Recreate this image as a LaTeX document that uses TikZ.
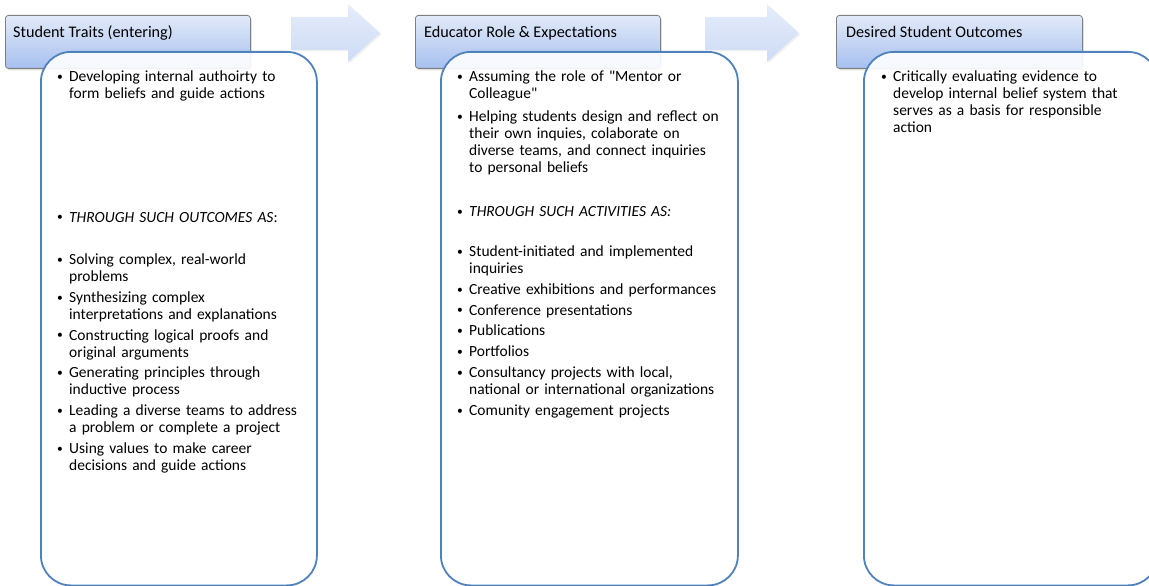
\documentclass[tikz,border=0pt]{standalone}
\usepackage{fontspec}
\setmainfont{Carlito}[Ligatures=TeXOff]
\usetikzlibrary{shadows}
\definecolor{boxblue}{HTML}{4F81BD}
\definecolor{hdrtop}{HTML}{E2EAF9}
\definecolor{hdrbot}{HTML}{A6C0EF}
\definecolor{arrtop}{HTML}{E6EDFA}
\definecolor{arrbot}{HTML}{CCDBF5}
\definecolor{hdrline}{HTML}{7F7F7F}
\newcommand{\smallbul}{\raisebox{1.2pt}{\fontsize{11.5}{11.5}\selectfont\textbullet}}
\newcommand{\bitem}[1]{\hangindent=12pt\hangafter=1\noindent\makebox[12pt][l]{\smallbul}{\let\\\newline #1}\par}
\tikzset{
  hdr/.style={draw=hdrline, line width=0.8pt, rounded corners=3pt,
    top color=hdrtop, bottom color=hdrbot,
    drop shadow={opacity=0.25, shadow xshift=1.5pt, shadow yshift=-2pt},
    anchor=north west, inner sep=0pt, minimum height=53pt},
  hdrtext/.style={anchor=base west, inner sep=0pt, font=\fontsize{16.2}{17}\selectfont},
  arrowshape/.style={top color=arrtop, bottom color=arrbot, draw=none,
    drop shadow={opacity=0.12, shadow xshift=1.5pt, shadow yshift=-1.5pt}},
  body/.style={draw=boxblue, line width=1.8pt, rounded corners=30pt, fill=white, fill opacity=0.9,
    text opacity=1, anchor=north west, inner sep=0pt},
  itemtext/.style={anchor=base west, inner sep=0pt, text width=300pt, align=left,
    font=\fontsize{15.5}{17}\selectfont\setlength{\parskip}{3.8pt}},
}
\begin{document}
\begin{tikzpicture}[x=1pt,y=-1pt]
\useasboundingbox (0,0) rectangle (1149,586);
% arrows
\path[arrowshape] (291,17) -- (348,17) -- (348,4) -- (380,33) -- (348,62) -- (348,50) -- (291,50) -- cycle;
\path[arrowshape] (705,17) -- (767,17) -- (767,4) -- (799,33) -- (767,62) -- (767,50) -- (705,50) -- cycle;
% headers
\node[hdr, minimum width=245pt] (h1) at (5,15) {};
\node[hdr, minimum width=245pt] (h2) at (415,15) {};
\node[hdr, minimum width=246pt] (h3) at (836,15) {};
\node[hdrtext] (h1t) at (13,37.5) {Student Traits (entering)};
\node[hdrtext] (h2t) at (424,37.5) {Educator Role \& Expectations};
\node[hdrtext] (h3t) at (846,37.5) {Desired Student Outcomes};
% bodies
\node[body, minimum width=276pt, minimum height=533.5pt] (b1) at (40,51) {};
\node[body, minimum width=297pt, minimum height=533.5pt] (b2) at (440,51) {};
\node[body, minimum width=294pt, minimum height=533.5pt] (b3) at (863,51) {};
% box 1 text
\node[itemtext] (b1a) at (57,81.5) {\bitem{Developing internal authoirty to\\form beliefs and guide actions}};
\node[itemtext] (b1b) at (57,222) {\bitem{\textit{THROUGH SUCH OUTCOMES AS}:}};
\node[itemtext] (b1c) at (57,264.5) {%
\bitem{Solving complex, real-world\\problems}
\bitem{Synthesizing complex\\interpretations and explanations}
\bitem{Constructing logical proofs and\\original arguments}
\bitem{Generating principles through\\inductive process}
\bitem{Leading a diverse teams to address\\a problem or complete a project}
\bitem{Using values to make career\\decisions and guide actions}};
% box 2 text
\node[itemtext] (b2a) at (457,81.5) {%
\bitem{Assuming the role of "Mentor or\\Colleague"}
\vspace{2.5pt}
\bitem{Helping students design and reflect on\\their own inquies, colaborate on\\diverse teams, and connect inquiries\\to personal beliefs}};
\node[itemtext] (b2b) at (457,216.5) {\bitem{\textit{THROUGH SUCH ACTIVITIES AS:}}};
\node[itemtext] (b2c) at (457,256.5) {%
\bitem{Student-initiated and implemented\\inquiries}
\bitem{Creative exhibitions and performances}
\bitem{Conference presentations}
\bitem{Publications}
\bitem{Portfolios}
\bitem{Consultancy projects with local,\\national or international organizations}
\bitem{Comunity engagement projects}};
% box 3 text
\node[itemtext] (b3a) at (881,81.5) {%
\bitem{Critically evaluating evidence to\\develop internal belief system that\\serves as a basis for responsible\\action}};
\end{tikzpicture}
\end{document}
